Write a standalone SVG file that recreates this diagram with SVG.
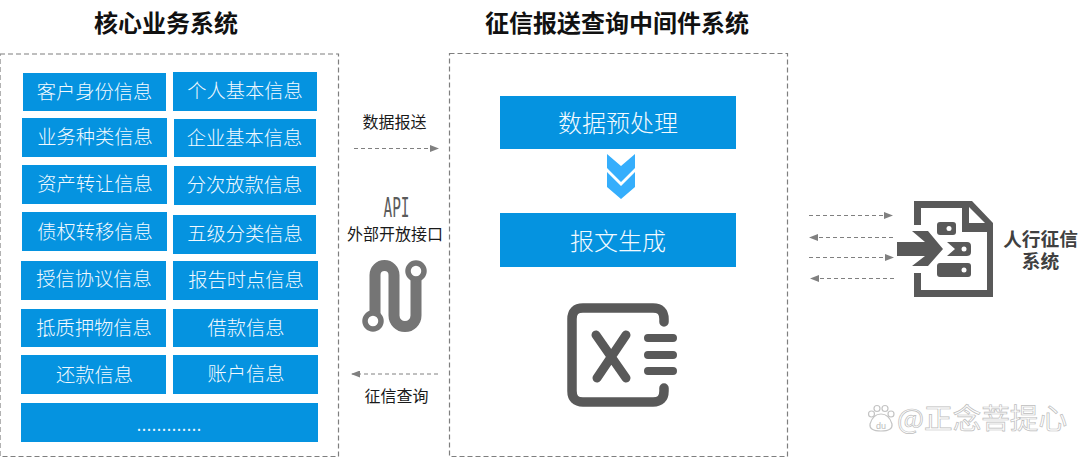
<svg xmlns="http://www.w3.org/2000/svg" width="1090" height="457" viewBox="0 0 1090 457">
<defs>
<marker id="ah" markerWidth="9" markerHeight="7" refX="8" refY="3.500" orient="auto" markerUnits="userSpaceOnUse"><path d="M0 0L9 3.500L0 7Z" fill="#808080"/></marker>
</defs>
<style>
text{font-family:"Noto Sans CJK SC","Microsoft YaHei",sans-serif;text-anchor:middle}
.b{fill:#0593e0}
.t{fill:#f2faff;font-size:19.300px;font-weight:300}
.h{fill:#111;font-size:24px;font-weight:700}
.s{fill:#1a1a1a;font-size:16px;font-weight:400}
.f{fill:none;stroke:#7f7f7f;stroke-width:1.200;stroke-dasharray:5 3}
.c{fill:none;stroke:#808080;stroke-width:1;stroke-dasharray:4 3;marker-end:url(#ah)}
.g{fill:#595959}
.gl{fill:none;stroke:#595959;stroke-linecap:round}
</style>
<rect width="1090" height="457" fill="#fff"/>
<text class="h" x="166" y="32">核心业务系统</text>
<text class="h" x="617" y="32">征信报送查询中间件系统</text>
<g id="core-system">
<rect class="f" x="0" y="54" width="338.500" height="402.500"/>
<g id="n1"><rect class="b" x="23" y="73" width="143" height="38"/><text class="t" x="94.500" y="99">客户身份信息</text></g>
<g id="n2"><rect class="b" x="173" y="72" width="144" height="39"/><text class="t" x="245" y="98">个人基本信息</text></g>
<g id="n3"><rect class="b" x="22" y="118" width="145" height="39"/><text class="t" x="95" y="144">业务种类信息</text></g>
<g id="n4"><rect class="b" x="174" y="119" width="142" height="38"/><text class="t" x="244.500" y="145">企业基本信息</text></g>
<g id="n5"><rect class="b" x="22" y="165" width="145" height="39"/><text class="t" x="95" y="191">资产转让信息</text></g>
<g id="n6"><rect class="b" x="174" y="166" width="142" height="39"/><text class="t" x="244.500" y="192">分次放款信息</text></g>
<g id="n7"><rect class="b" x="22" y="212" width="145" height="39"/><text class="t" x="95" y="239">债权转移信息</text></g>
<g id="n8"><rect class="b" x="173" y="215" width="143" height="39"/><text class="t" x="245" y="241">五级分类信息</text></g>
<g id="n9"><rect class="b" x="21" y="261" width="145" height="39"/><text class="t" x="94" y="286">授信协议信息</text></g>
<g id="n10"><rect class="b" x="173" y="261" width="145" height="39"/><text class="t" x="246" y="287">报告时点信息</text></g>
<g id="n11"><rect class="b" x="21" y="309" width="145" height="38"/><text class="t" x="94" y="335">抵质押物信息</text></g>
<g id="n12"><rect class="b" x="173" y="309" width="145" height="38"/><text class="t" x="246" y="335">借款信息</text></g>
<g id="n13"><rect class="b" x="21" y="355" width="145" height="39"/><text class="t" x="94.500" y="382">还款信息</text></g>
<g id="n14"><rect class="b" x="173" y="355" width="145" height="39"/><text class="t" x="246" y="381">账户信息</text></g>
<g id="n15"><rect class="b" x="21" y="403" width="297" height="39"/><text class="t" x="169" y="431" style="font-size:20px">.............</text></g>
</g>
<g id="middleware">
<rect class="f" x="449.500" y="53.500" width="338" height="403"/>
<g id="n16"><rect class="b" x="500" y="96" width="236" height="53"/><text class="t" x="618" y="132" style="font-size:24px">数据预处理</text></g>
<path d="M607 154L621 166L635 154V168L621 182L607 168Z" fill="#35aefc"/>
<path d="M607 172L621 186L635 172V187L621 199L607 187Z" fill="#35aefc"/>
<g id="n17"><rect class="b" x="500" y="213" width="236" height="54"/><text class="t" x="618" y="250" style="font-size:24px">报文生成</text></g>
<g id="excel-icon">
<path class="gl" stroke-width="9.500" d="M664 322V319Q664 308 653 308H583Q572 308 572 319V391Q572 402 583 402H653Q664 402 664 391V388"/>
<path class="gl" stroke-width="9" d="M596 335L626 378M626 335L597 378"/>
<path class="gl" stroke-width="8" d="M648 338H673M648 355H673M648 371H673"/>
</g>
</g>
<g id="connectors">
<line class="c" x1="354" y1="148.500" x2="438" y2="148.500"/>
<line class="c" x1="438" y1="374" x2="352" y2="374"/>
<line class="c" x1="809" y1="215.500" x2="892" y2="215.500"/>
<line class="c" x1="893" y1="237.500" x2="810" y2="237.500"/>
<line class="c" x1="809" y1="257.500" x2="893" y2="257.500"/>
<line class="c" x1="894" y1="278.500" x2="811" y2="278.500"/>
</g>
<text class="s" x="394.500" y="128">数据报送</text>
<text x="396.500" y="217" textLength="26" lengthAdjust="spacingAndGlyphs" style="font-size:27px;font-family:'DejaVu Sans Mono',monospace;fill:#5a5a5a;font-weight:400">API</text>
<text class="s" x="395" y="240">外部开放接口</text>
<text class="s" x="396.500" y="402">征信查询</text>
<g id="api-icon">
<path fill="none" stroke="#757575" stroke-width="11" d="M375 316V275A9.500 9.500 0 0 1 394 275V315.500A11 11 0 0 0 416 315.500V280"/>
<circle cx="373" cy="321" r="8" fill="#fff" stroke="#757575" stroke-width="5.500"/>
<circle cx="416" cy="271" r="8" fill="#fff" stroke="#757575" stroke-width="5.500"/>
</g>
<g id="pboc">
<path class="g" fill-rule="evenodd" d="M914 201H972L993 223V297H914V273H921V290H987V232H962V208H921V225H914ZM969 207L985 223H969Z"/>
<rect class="g" x="937" y="222" width="19" height="13" rx="3"/><circle cx="949" cy="228.500" r="2.500" fill="#fff"/>
<path class="g" d="M897 242H925L912 231H928L943 249L928 266H912L925 256H897Z"/>
<path class="g" d="M947 242H967Q971 242 971 246V252Q971 256 967 256H947L955 249Z"/><circle cx="964" cy="249" r="2.500" fill="#fff"/>
<rect class="g" x="937" y="263" width="34" height="14" rx="3"/><circle cx="964" cy="270" r="2.500" fill="#fff"/>
<text style="font-size:18.700px;font-weight:700;fill:#404040"><tspan x="1040.500" y="246">人行征信</tspan><tspan x="1040.500" y="268">系统</tspan></text>
</g>
<text x="897" y="429" textLength="170" lengthAdjust="spacingAndGlyphs" style="text-anchor:start;font-size:28px;fill:#fff;stroke:#bdbdbd;stroke-width:.700">@正念菩提心</text>
<g fill="#fff" stroke="#c4c4c4" stroke-width="1.200">
<path d="M870 424Q873 414 881 414Q889 414 892 424Q893 431 881 431Q869 431 870 424Z"/>
<circle cx="871.500" cy="414" r="3"/><circle cx="877" cy="408.500" r="3"/><circle cx="885" cy="408.500" r="3"/><circle cx="891" cy="414" r="3"/>
</g>
<text x="881" y="429" style="font-size:9px;fill:#bbb;font-family:'Liberation Sans',sans-serif">du</text>
</svg>
